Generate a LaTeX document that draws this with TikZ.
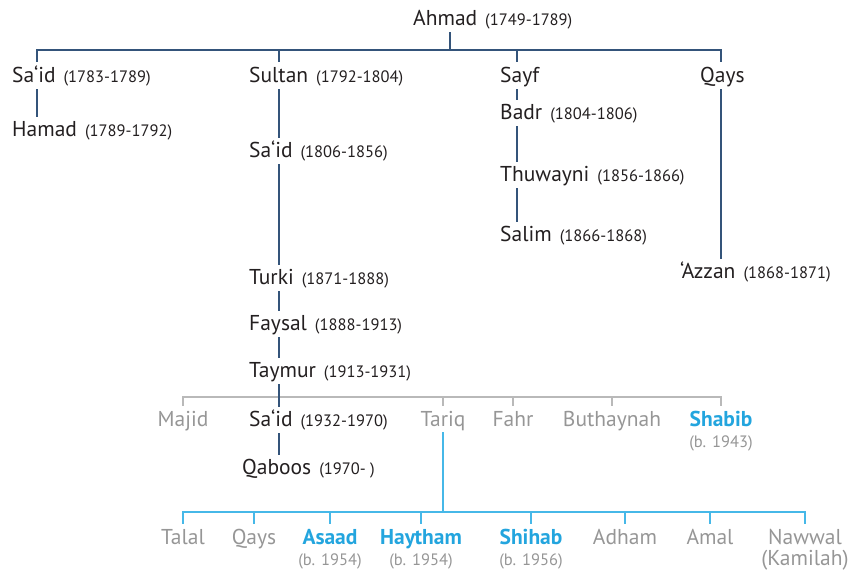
\documentclass[tikz,border=0pt]{standalone}
\usepackage{fontspec}
\setmainfont{PT Sans}
\definecolor{linedark}{RGB}{52,84,122}
\definecolor{linegray}{RGB}{185,185,185}
\definecolor{lineblue}{RGB}{70,184,232}
\definecolor{textdark}{RGB}{35,31,32}
\definecolor{textgray}{RGB}{150,150,150}
\definecolor{textblue}{RGB}{35,165,222}
\newcommand{\yrs}[1]{\hspace{8pt}{\fontsize{16.5}{19}\selectfont #1}}
\begin{document}
\begin{tikzpicture}[x=1pt,y=-1pt,
  ruler/.style={font=\fontsize{21.5}{25}\selectfont,text=textdark,anchor=base west,inner xsep=0pt,inner ysep=2pt,text height=15pt,text depth=4pt},
  kin/.style={ruler,anchor=base,text=textgray},
  heir/.style={kin,text=textblue,font=\fontsize{21.5}{25}\selectfont\bfseries},
  born/.style={font=\fontsize{16.5}{19}\selectfont,text=textgray,inner sep=1pt,text height=14pt,text depth=3pt},
  alias/.style={born,font=\fontsize{21.5}{25}\selectfont},
  dark/.style={draw=linedark,line width=2pt},
  pale/.style={draw=linegray,line width=1.5pt},
  light/.style={draw=lineblue,line width=2.5pt},
  gap/.style={shorten >=3pt},
  link/.style={dark,shorten <=1pt,shorten >=2pt}]
\useasboundingbox (0,0) rectangle (851,574);
% Columns and bars
\coordinate (c0) at (450,0);
\coordinate (ca) at (37,0);
\coordinate (cb) at (279,0);
\coordinate (cc) at (517,0);
\coordinate (cd) at (721,0);
\coordinate (bar1) at (0,50);
\coordinate (bar2) at (0,397);
\coordinate (bar3) at (0,512);
% Ahmad
\draw (413,25) node(n0)[ruler] {Ahmad\yrs{(1749-1789)}};
% Line of Sa'id
\draw (12,82) node(a1)[ruler] {Sa‘id\yrs{(1783-1789)}} +(0,54) node(a2)[ruler] {Hamad\yrs{(1789-1792)}};
% Line of Sultan
\draw (249,82) node(b1)[ruler] {Sultan\yrs{(1792-1804)}} +(0,75) node(b2)[ruler] {Sa‘id\yrs{(1806-1856)}} +(0,202) node(b3)[ruler] {Turki\yrs{(1871-1888)}} +(0,248) node(b4)[ruler] {Faysal\yrs{(1888-1913)}} +(0,295) node(b5)[ruler] {Taymur\yrs{(1913-1931)}} +(0,344) node(b6)[ruler] {Sa‘id\yrs{(1932-1970)}} +(-7,392) node(b7)[ruler] {Qaboos\yrs{(1970- )}};
% Line of Sayf
\draw (500,82) node(c1)[ruler] {Sayf} +(0,37) node(c2)[ruler] {Badr\yrs{(1804-1806)}} +(0,99) node(c3)[ruler] {Thuwayni\yrs{(1856-1866)}} +(0,159) node(c4)[ruler] {Salim\yrs{(1866-1868)}};
% Line of Qays
\draw (700,82) node(d1)[ruler] {Qays} +(-20,196) node(d2)[ruler] {‘Azzan\yrs{(1868-1871)}};
% Sons of Taymur
\draw (183,426) node(g1)[kin] {Majid} (443,426) node(g2)[kin] {Tariq} (513,426) node(g3)[kin] {Fahr} (612,426) node(g4)[kin] {Buthaynah} (721,426) node(g5)[heir,label={[born]below:(b. 1943)}] {Shabib};
% Children of Tariq
\draw (183,544) node(t1)[kin] {Talal} (254,544) node(t2)[kin] {Qays} (330,544) node(t3)[heir,label={[born]below:(b. 1954)}] {Asaad} (421,544) node(t4)[heir,label={[born]below:(b. 1954)}] {Haytham} (531,544) node(t5)[heir,label={[born]below:(b. 1956)}] {Shihab} (625,544) node(t6)[kin] {Adham} (710,544) node(t7)[kin] {Amal} (805,544) node(t8)[kin,label={[alias]below:(Kamilah)}] {Nawwal};
% Bar under Ahmad
\draw[dark,shorten <=1pt] (n0.south -| c0) -- (c0 |- bar1);
\draw[dark,gap,shorten <=3pt] (a1.north -| ca) -- (ca |- bar1) -- (cd |- bar1) -- (d1.north -| cd);
\draw[dark,gap] (cb |- bar1) -- (b1.north -| cb);
\draw[dark,gap] (cc |- bar1) -- (c1.north -| cc);
% Bar under Taymur
\draw[pale,gap,shorten <=3pt] (g1.north) -- (g1.north |- bar2) -- (g5.north |- bar2) -- (g5.north);
\draw[pale,gap] (g2.north |- bar2) -- (g2.north);
\draw[pale,gap] (g3.north |- bar2) -- (g3.north);
\draw[pale,gap] (g4.north |- bar2) -- (g4.north);
% Successions
\draw[link] (a1.south -| ca) -- (a2.north -| ca);
\draw[link] (b1.south -| cb) -- (b2.north -| cb);
\draw[link] (b2.south -| cb) -- (b3.north -| cb);
\draw[link] (b3.south -| cb) -- (b4.north -| cb);
\draw[link] (b4.south -| cb) -- (b5.north -| cb);
\draw[link] (b5.south -| cb) -- (b6.north -| cb);
\draw[link] (b6.south -| cb) -- (b7.north -| cb);
\draw[link] (c1.south -| cc) -- (c2.north -| cc);
\draw[link] (c2.south -| cc) -- (c3.north -| cc);
\draw[link] (c3.south -| cc) -- (c4.north -| cc);
\draw[link] (d1.south -| cd) -- (d2.north -| cd);
% Bar under Tariq
\draw[light] (g2.south) -- (g2.south |- bar3);
\draw[light,gap,shorten <=3pt] (t1.north) -- (t1.north |- bar3) -- (t8.north |- bar3) -- (t8.north);
\draw[light,gap] (t2.north |- bar3) -- (t2.north);
\draw[light,gap] (t3.north |- bar3) -- (t3.north);
\draw[light,gap] (t4.north |- bar3) -- (t4.north);
\draw[light,gap] (t5.north |- bar3) -- (t5.north);
\draw[light,gap] (t6.north |- bar3) -- (t6.north);
\draw[light,gap] (t7.north |- bar3) -- (t7.north);
\end{tikzpicture}
\end{document}
